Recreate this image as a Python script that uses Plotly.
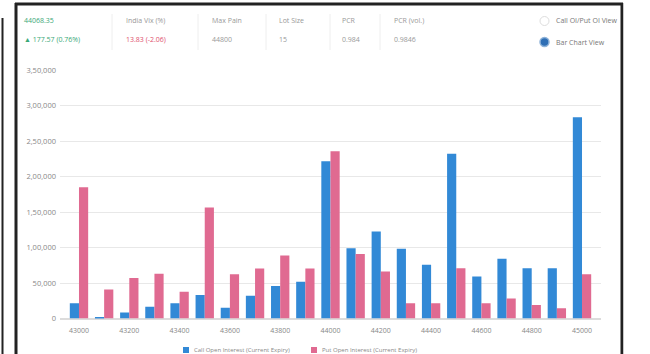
import plotly.graph_objects as go

# Strike prices and open interest per strike
strikes = [str(s) for s in range(43000, 45001, 100)]
call_oi = [21500, 1000, 8500, 16500, 21500, 33000, 15300, 32200, 45900, 51600, 221500,
           99100, 122600, 98200, 75600, 231900, 59000, 84000, 70900, 70900, 283600]
put_oi = [185000, 41000, 57000, 63000, 37500, 156500, 62400, 70300, 88700, 70300, 235600,
          90700, 66100, 21500, 21500, 70900, 21500, 28000, 19000, 14400, 62400]
y_ticks = [0, 50000, 100000, 150000, 200000, 250000, 300000, 350000]
y_tick_text = ["0", "50,000", "1,00,000", "1,50,000", "2,00,000", "2,50,000", "3,00,000", "3,50,000"]
series_names = ["Call Open Interest (Current Expiry)", "Put Open Interest (Current Expiry)"]

# Header quote strip
header_labels = ["44068.35", "India Vix (%)", "Max Pain", "Lot Size", "PCR", "PCR (vol.)"]
header_values = ["\u25b2 177.57 (0.76%)", "13.83 (-2.06)", "44800", "15", "0.984", "0.9846"]
header_x = [22, 124, 210, 277, 340, 392]
view_options = ["Call OI/Put OI View", "Bar Chart View"]

W, H = 650, 354
FONT = "Open Sans, Roboto, sans-serif"
BLUE = "#3289d6"
PINK = "#e06a91"


def px(x):
    return x / W


def py(y):
    return 1 - y / H


xi = list(range(len(strikes)))

fig = go.Figure()
fig.add_trace(go.Bar(x=xi, y=call_oi, name=series_names[0],
                     marker=dict(color=BLUE, line=dict(width=0))))
fig.add_trace(go.Bar(x=xi, y=put_oi, name=series_names[1],
                     marker=dict(color=PINK, line=dict(width=0))))

fig.update_layout(
    width=W, height=H,
    margin=dict(l=0, r=0, t=0, b=0, autoexpand=False),
    paper_bgcolor="white", plot_bgcolor="white",
    barmode="group", bargap=0.27, bargroupgap=0.0,
    font=dict(family=FONT, size=7, color="#888"),
    showlegend=False,
    xaxis=dict(domain=[px(60), px(601)], range=[-0.755, 20.755],
               tickmode="array", tickvals=xi[::2], ticktext=strikes[::2],
               showgrid=False, zeroline=False, showline=False, ticks="",
               tickfont=dict(size=7, color="#888"), ticklabelstandoff=6,
               automargin=False),
    yaxis=dict(domain=[py(318.5), py(70)], range=[0, 350000],
               tickmode="array", tickvals=y_ticks, ticktext=y_tick_text,
               showgrid=True, gridcolor="#e8e8e8", gridwidth=1,
               zeroline=True, zerolinecolor="#dcdcdc", showline=False, ticks="",
               tickfont=dict(size=7.5, color="#888"), ticklabelstandoff=3,
               automargin=False),
)

shapes = []
# outer frame lines
shapes.append(dict(type="line", xref="paper", yref="paper", x0=px(2.5), x1=px(2.5),
                   y0=py(18), y1=0, line=dict(color="#222", width=2)))
shapes.append(dict(type="line", xref="paper", yref="paper", x0=px(16), x1=px(16),
                   y0=py(3), y1=0, line=dict(color="#222", width=3)))
shapes.append(dict(type="line", xref="paper", yref="paper", x0=px(15), x1=px(623),
                   y0=py(4), y1=py(4), line=dict(color="#222", width=3)))
shapes.append(dict(type="line", xref="paper", yref="paper", x0=px(622), x1=px(622),
                   y0=py(3), y1=0, line=dict(color="#222", width=3)))
# header separators
for sx in [112, 198, 266, 330, 380]:
    shapes.append(dict(type="line", xref="paper", yref="paper", x0=px(sx), x1=px(sx),
                       y0=py(14), y1=py(50), line=dict(color="#eeeeee", width=1)))
# radio buttons
shapes.append(dict(type="circle", xref="paper", yref="paper",
                   x0=px(540), x1=px(549), y0=py(25.5), y1=py(16.5),
                   line=dict(color="#dddddd", width=1), fillcolor="white"))
shapes.append(dict(type="circle", xref="paper", yref="paper",
                   x0=px(540), x1=px(549), y0=py(46.5), y1=py(37.5),
                   line=dict(color="#8fb3d9", width=1.5), fillcolor="#2f6fb5"))
# legend swatches
for lx, col in zip([183, 311], [BLUE, PINK]):
    shapes.append(dict(type="rect", xref="paper", yref="paper",
                       x0=px(lx), x1=px(lx + 6), y0=py(353), y1=py(347),
                       fillcolor=col, line=dict(width=0)))
fig.update_layout(shapes=shapes)

annotations = []
for i, (lab, val, hx) in enumerate(zip(header_labels, header_values, header_x)):
    lab_color = "#3aa877" if i == 0 else "#999"
    val_color = "#3aa877" if i == 0 else ("#e0506e" if i == 1 else "#999")
    annotations.append(dict(xref="paper", yref="paper", x=px(hx), y=py(21), text=lab,
                            showarrow=False, xanchor="left", yanchor="middle",
                            font=dict(size=7, color=lab_color)))
    annotations.append(dict(xref="paper", yref="paper", x=px(hx), y=py(40), text=val,
                            showarrow=False, xanchor="left", yanchor="middle",
                            font=dict(size=7, color=val_color)))
for opt, oy in zip(view_options, [21, 42]):
    annotations.append(dict(xref="paper", yref="paper", x=px(554), y=py(oy), text=opt,
                            showarrow=False, xanchor="left", yanchor="middle",
                            font=dict(size=7, color="#777")))
for lx, name in zip([192, 320], series_names):
    annotations.append(dict(xref="paper", yref="paper", x=px(lx), y=py(350), text=name,
                            showarrow=False, xanchor="left", yanchor="middle",
                            font=dict(size=6, color="#888")))
fig.update_layout(annotations=annotations)

# white mask beyond the right frame edge
fig.add_shape(type="rect", xref="paper", yref="paper", x0=px(623.5), x1=1, y0=0, y1=1,
              fillcolor="white", line=dict(width=0), layer="above")

fig.write_html("out.html")
